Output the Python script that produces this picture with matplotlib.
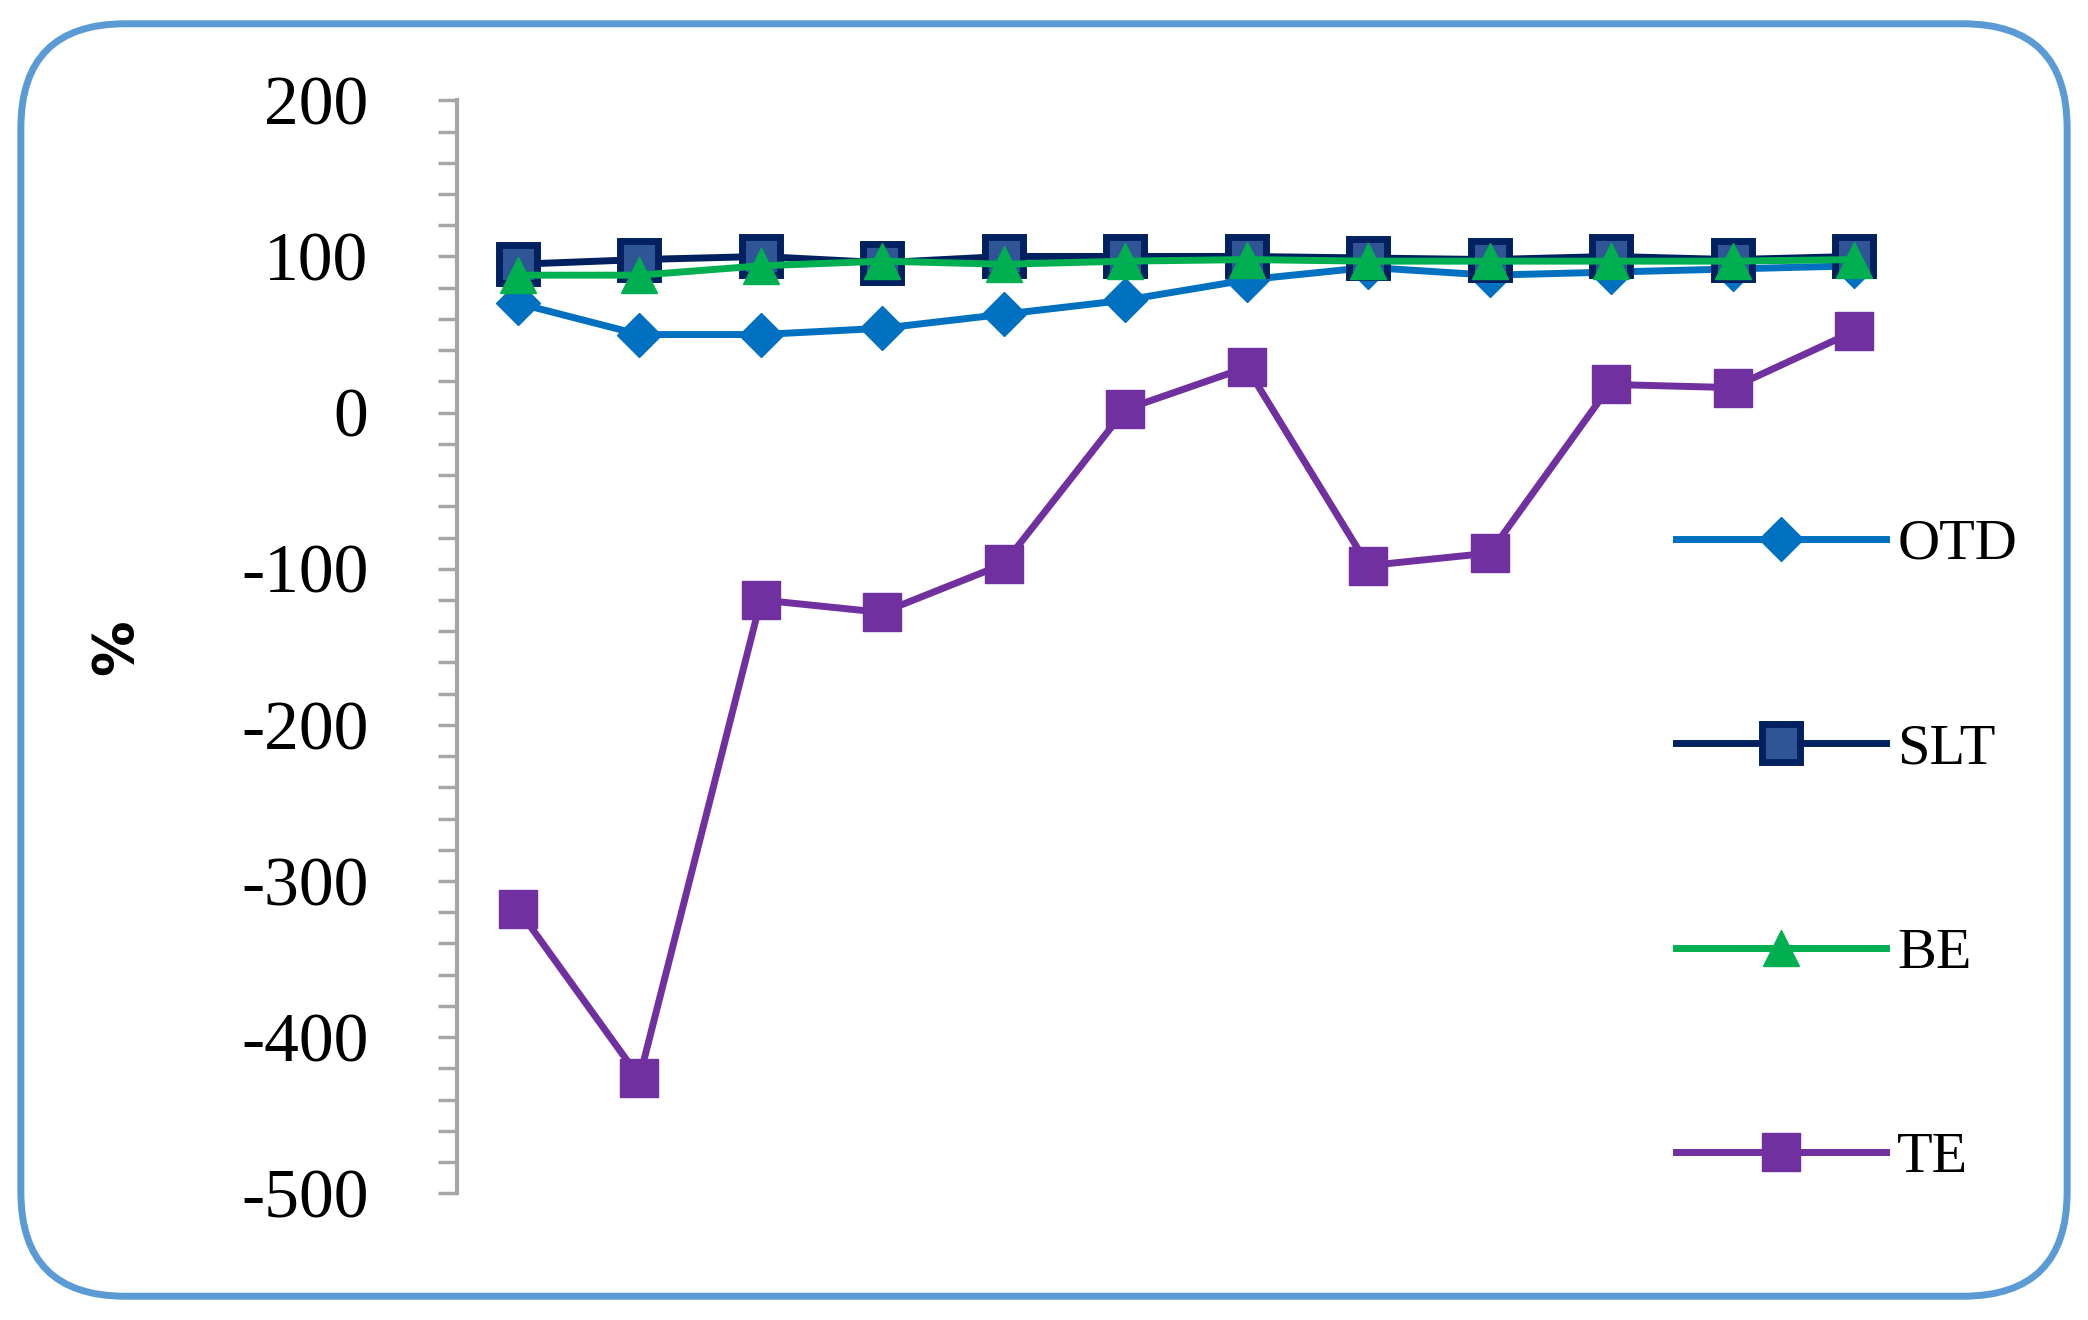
import matplotlib.pyplot as plt
from matplotlib.patches import FancyBboxPatch
import numpy as np

x = np.arange(1, 13)
otd = [70, 50, 50, 54, 63, 72, 85, 93, 88, 90, 92, 94]
slt = [95, 98, 100, 96, 100, 100, 100, 99, 98, 100, 98, 100]
be = [88, 88, 94, 97, 95, 97, 98, 97, 97, 97, 97, 98]
te = [-318, -426, -120, -128, -97, 2, 29, -98, -90, 18, 16, 52]

plt.rcParams['font.family'] = ['Liberation Serif', 'DejaVu Serif']
plt.rcParams['axes.unicode_minus'] = False

fig = plt.figure(figsize=(20.88, 13.2), dpi=100)
fig.patches.append(FancyBboxPatch((0.01, 0.018), 0.98, 0.964, boxstyle="round,pad=0,rounding_size=0.05",
                                  transform=fig.transFigure, fill=False, edgecolor='#5B9BD5', linewidth=5,
                                  mutation_aspect=1.58))
ax = fig.add_axes([0.219, 0.096, 0.698, 0.828])

ax.plot(x, otd, color='#0070C0', lw=5, marker='D', ms=22, label='OTD')
ax.plot(x, slt, color='#002060', lw=5, marker='s', ms=28, mfc='#2F5597', mec='#002060', mew=5, label='SLT')
ax.plot(x, be, color='#00B050', lw=5, marker='^', ms=26, label='BE')
ax.plot(x, te, color='#7030A0', lw=5, marker='s', ms=28, label='TE')

ax.set_xlim(0.5, 12.5)
ax.set_ylim(-500, 200)
ax.set_yticks(range(-500, 201, 100))
ax.set_yticks(range(-500, 201, 20), minor=True)
ax.tick_params(axis='y', which='both', direction='out', length=14, width=2.5, color='#A6A6A6', labelsize=50, pad=50)
ax.tick_params(axis='x', bottom=False, labelbottom=False)
for s in ['top', 'right', 'bottom']:
    ax.spines[s].set_visible(False)
ax.spines['left'].set_color('#A6A6A6')
ax.spines['left'].set_linewidth(3)
ax.set_ylabel('%', fontsize=40, fontweight='bold', family='DejaVu Sans', labelpad=70)

ax.legend(loc='lower left', bbox_to_anchor=(0.80, -0.04), frameon=False, fontsize=42,
          labelspacing=2.6, handlelength=3.6, handletextpad=0.2)

fig.savefig('out.png', dpi=100)
